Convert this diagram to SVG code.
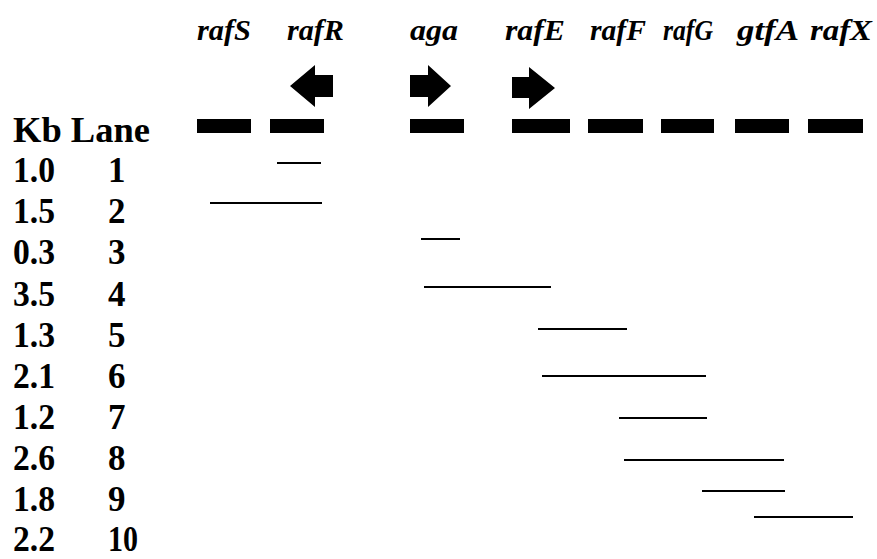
<svg xmlns="http://www.w3.org/2000/svg" width="877" height="559" viewBox="0 0 877 559">
<style>
.gene{font-family:"Liberation Serif","Times New Roman",serif;font-weight:bold;font-style:italic;font-size:29px;fill:#000}
.lab{font-family:"Liberation Serif","Times New Roman",serif;font-weight:bold;font-size:35px;fill:#000}
.blk{fill:#000}
.seg{stroke:#000;stroke-width:2;fill:none}
</style>
<rect width="877" height="559" fill="#fff"/>
<g id="genes">
<g id="gene-rafS"><text class="gene" x="197" y="40" textLength="54" lengthAdjust="spacingAndGlyphs">rafS</text><rect class="blk" x="197" y="119" width="54" height="14"/></g>
<g id="gene-rafR"><text class="gene" x="287" y="40" textLength="57" lengthAdjust="spacingAndGlyphs">rafR</text><rect class="blk" x="270" y="119" width="54" height="14"/><polygon class="blk" points="290,86 315,65 315,75 333,75 333,97 315,97 315,107"/></g>
<g id="gene-aga"><text class="gene" x="410" y="40" textLength="48" lengthAdjust="spacingAndGlyphs">aga</text><rect class="blk" x="410" y="119" width="54" height="14"/><polygon class="blk" points="410,75 428,75 428,65 451,86 428,107 428,97 410,97"/></g>
<g id="gene-rafE"><text class="gene" x="505" y="40" textLength="60" lengthAdjust="spacingAndGlyphs">rafE</text><rect class="blk" x="512" y="119" width="58" height="14"/><polygon class="blk" points="512,77 529,77 529,67 555,88 529,109 529,98 512,98"/></g>
<g id="gene-rafF"><text class="gene" x="590" y="40" textLength="56" lengthAdjust="spacingAndGlyphs">rafF</text><rect class="blk" x="588" y="119" width="55" height="14"/></g>
<g id="gene-rafG"><text class="gene" x="663" y="40" textLength="50" lengthAdjust="spacingAndGlyphs">rafG</text><rect class="blk" x="661" y="119" width="53" height="14"/></g>
<g id="gene-gtfA"><text class="gene" x="737" y="40" textLength="62" lengthAdjust="spacingAndGlyphs">gtfA</text><rect class="blk" x="735" y="119" width="54" height="14"/></g>
<g id="gene-rafX"><text class="gene" x="810" y="40" textLength="62" lengthAdjust="spacingAndGlyphs">rafX</text><rect class="blk" x="808" y="119" width="55" height="14"/></g>
</g>
<g id="header"><text class="lab" x="13" y="142" textLength="137" lengthAdjust="spacingAndGlyphs">Kb Lane</text></g>
<g id="rows">
<g id="row1"><text class="lab" x="13" y="182" textLength="42" lengthAdjust="spacingAndGlyphs">1.0</text><text class="lab" x="108" y="182">1</text></g>
<g id="row2"><text class="lab" x="13" y="223" textLength="42" lengthAdjust="spacingAndGlyphs">1.5</text><text class="lab" x="108" y="223">2</text></g>
<g id="row3"><text class="lab" x="13" y="264" textLength="42" lengthAdjust="spacingAndGlyphs">0.3</text><text class="lab" x="108" y="264">3</text></g>
<g id="row4"><text class="lab" x="13" y="306" textLength="42" lengthAdjust="spacingAndGlyphs">3.5</text><text class="lab" x="108" y="306">4</text></g>
<g id="row5"><text class="lab" x="13" y="347" textLength="42" lengthAdjust="spacingAndGlyphs">1.3</text><text class="lab" x="108" y="347">5</text></g>
<g id="row6"><text class="lab" x="13" y="388" textLength="42" lengthAdjust="spacingAndGlyphs">2.1</text><text class="lab" x="108" y="388">6</text></g>
<g id="row7"><text class="lab" x="13" y="429" textLength="42" lengthAdjust="spacingAndGlyphs">1.2</text><text class="lab" x="108" y="429">7</text></g>
<g id="row8"><text class="lab" x="13" y="470" textLength="42" lengthAdjust="spacingAndGlyphs">2.6</text><text class="lab" x="108" y="470">8</text></g>
<g id="row9"><text class="lab" x="13" y="511" textLength="42" lengthAdjust="spacingAndGlyphs">1.8</text><text class="lab" x="108" y="511">9</text></g>
<g id="row10"><text class="lab" x="13" y="551" textLength="42" lengthAdjust="spacingAndGlyphs">2.2</text><text class="lab" x="108" y="551" textLength="30" lengthAdjust="spacingAndGlyphs">10</text></g>
</g>
<g id="connectors">
<line class="seg" x1="277" y1="163" x2="321" y2="163"/>
<line class="seg" x1="210" y1="203" x2="322" y2="203"/>
<line class="seg" x1="421" y1="239" x2="460" y2="239"/>
<line class="seg" x1="424" y1="287" x2="551" y2="287"/>
<line class="seg" x1="538" y1="329" x2="627" y2="329"/>
<line class="seg" x1="542" y1="376" x2="706" y2="376"/>
<line class="seg" x1="619" y1="418" x2="707" y2="418"/>
<line class="seg" x1="624" y1="460" x2="784" y2="460"/>
<line class="seg" x1="702" y1="491" x2="785" y2="491"/>
<line class="seg" x1="754" y1="517" x2="853" y2="517"/>
</g>
</svg>
